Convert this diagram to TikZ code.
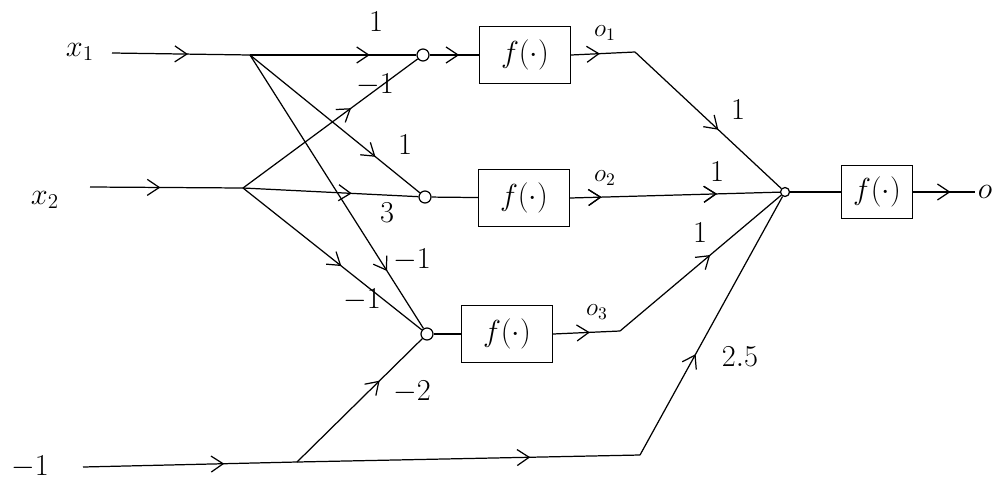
\documentclass[tikz,border=0pt]{standalone}
\usepackage{amsmath,amssymb}
\usetikzlibrary{arrows.meta,calc,decorations.markings}
\tikzset{
  >={Straight Barb[length=2.4mm,width=3.2mm]},
  sm/.style={circle,draw,minimum size=2.4mm,inner sep=0pt},
  fb/.style={draw,minimum width=18.2mm,minimum height=11.4mm,font=\LARGE},
  wt/.style={font=\LARGE,inner sep=1pt},
  ol/.style={font=\Large,inner sep=1pt},
  mid/.style={postaction={decorate},decoration={markings,mark=at position #1 with {\arrow{>}}}},
  every picture/.style={line width=0.7pt},
}
\begin{document}
\begin{tikzpicture}[x=0.2mm,y=-0.2mm]
\useasboundingbox (0,0) rectangle (1002,484);
% inputs
\node[font=\LARGE] (X1) at (80,52) {$x_1$}; \node[font=\LARGE] (X2) at (45,200) {$x_2$};
\node[font=\LARGE] (BI) at (30,467) {$-1$};
\coordinate (x1s) at (112,53); \coordinate (b1) at (250,55);
\coordinate (x2s) at (90,187); \coordinate (b2) at (243,188);
\coordinate (bs) at (83,467); \coordinate (b3) at (297,462);
% hidden layer
\node[sm] (S1) at (423,55){}; \node[sm] (S2) at (425,197){}; \node[sm] (S3) at (427,334){};
\node[fb] (F1) at (525,55) {$f(\cdot)$}; \node[fb] (F2) at (524,198) {$f(\cdot)$};
\node[fb] (F3) at (507,334) {$f(\cdot)$};
\coordinate (c1) at (635,52); \coordinate (c3) at (620,331); \coordinate (c4) at (640,455);
% output
\node[sm,minimum size=1.8mm] (S) at (785,192){};
\node[fb,minimum width=14.2mm,minimum height=10.6mm] (F) at (877,192) {$f(\cdot)$};
\node[font=\LARGE,inner sep=1pt] (O) at (985,192) {$o$};
\draw[mid=0.55] (x1s) -- (b1); \draw[mid=0.72] (b1) -- (S1);
\draw[mid=0.46] (x2s) -- (b2); \draw[mid=0.62] (b2) -- (S1);
\draw[mid=0.74] (b1) -- (S2); \draw[mid=0.62] (b2) -- (S2);
\draw[mid=0.79] (b1) -- (S3); \draw[mid=0.55] (b2) -- (S3);
\draw[mid=0.66] (bs) -- (b3); \draw[mid=0.66] (b3) -- (S3);
\draw[mid=0.68] (b3) -- (c4); \draw[mid=0.39] (c4) -- (S);
\draw[mid=0.6] (S1) -- (F1); \draw (S2) -- (F2); \draw (S3) -- (F3);
\draw[mid=0.45] (F1.east) -- (c1); \draw[mid=0.57] (c1) -- (S);
\draw[mid=0.15,mid=0.7] (F2.east) -- (S);
\draw[mid=0.55] (F3.east) -- (c3); \draw[mid=0.56] (c3) -- (S);
\draw (S) -- (F); \draw[mid=0.6] (F) -- (O);
% weights
\node[wt] (w1) at (376,22) {$1$}; \node[wt] (w2) at (375,85) {$-1$};
\node[wt] (w3) at (405,145) {$1$}; \node[wt] (w4) at (387,213) {$3$};
\node[wt] (w5) at (412,260) {$-1$}; \node[wt] (w6) at (362,300) {$-1$};
\node[wt] (w7) at (412,392) {$-2$}; \node[wt] (w8) at (738,110) {$1$};
\node[wt] (w9) at (717,172) {$1$}; \node[wt] (w10) at (700,233) {$1$};
\node[wt] (w11) at (740,357) {$2.5$};
\node[ol] (o1) at (605,33) {$o_1$}; \node[ol] (o2) at (605,178) {$o_2$};
\node[ol] (o3) at (597,312) {$o_3$};
\end{tikzpicture}
\end{document}
